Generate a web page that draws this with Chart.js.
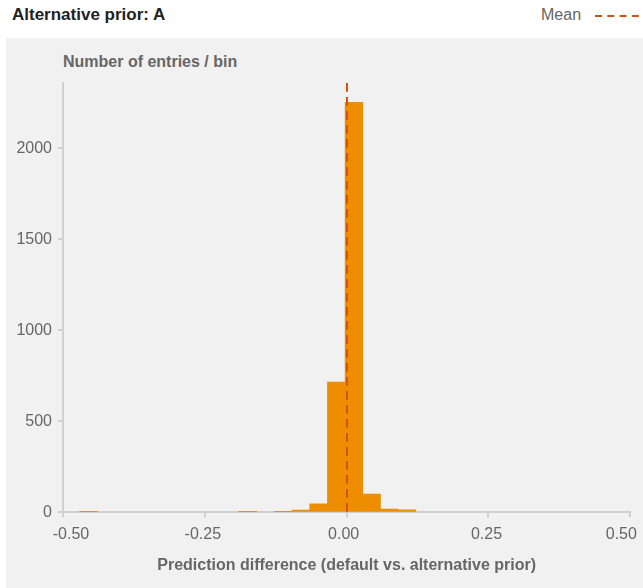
<!DOCTYPE html>
<html>
<head>
<meta charset="utf-8">
<script src="https://cdn.jsdelivr.net/npm/chart.js@4.4.1/dist/chart.umd.min.js"></script>
<style>
  html, body { margin: 0; padding: 0; background: #fff; overflow: hidden; }
  body { width: 643px; height: 588px; position: relative; font-family: "Liberation Sans", Arial, sans-serif; }
  #title { position: absolute; left: 12px; top: 5px; font-size: 17px; font-weight: bold; color: #222; white-space: nowrap; }
  #legend-text { position: absolute; left: 541px; top: 6px; font-size: 16px; color: #666; }
  #legend-line { position: absolute; left: 595px; top: 14px; }
  #panel { position: absolute; left: 6px; top: 38px; width: 637px; height: 550px; background: #f1f1f1; }
  #ytitle { position: absolute; left: 57px; top: 15px; font-size: 16px; font-weight: bold; color: #666; white-space: nowrap; }
  canvas { position: absolute; left: 0; top: 0; }
</style>
</head>
<body>
<div id="title">Alternative prior: A</div>
<div id="legend-text">Mean</div>
<svg id="legend-line" width="48" height="4"><line x1="0" y1="2" x2="48" y2="2" stroke="#d4520e" stroke-width="2" stroke-dasharray="7 5.3"/></svg>
<div id="panel">
  <div id="ytitle">Number of entries / bin</div>
  <canvas id="chart" width="637" height="550"></canvas>
</div>
<script>
// histogram bins (centres) and entries per bin
const BIN_CENTERS = [-0.4548, -0.4236, -0.3924, -0.3613, -0.3301, -0.2989, -0.2677,
  -0.2365, -0.2054, -0.1742, -0.1430, -0.1118, -0.0806, -0.0495, -0.0183,
  0.0129, 0.0441, 0.0753, 0.1064];
const COUNTS = [4, 0, 0, 0, 0, 0, 0, 0, 0, 4, 0, 4, 12, 46, 716, 2254, 100, 18, 13];
const MEAN = 0.0006;

const X_TICKS = [-0.5, -0.25, 0, 0.25, 0.5];
const X_TICK_LABELS = ["-0.50", "-0.25", "0.00", "0.25", "0.50"];
const Y_TICKS = [0, 500, 1000, 1500, 2000];
const Y_TICK_LABELS = ["0", "500", "1000", "1500", "2000"];
const Y_MAX = 2360;

const AXIS_GREY = "#d0d0d0";
const LABEL_SHIFT = [8, -2, -3, -2, -9];

Chart.defaults.font.family = '"Liberation Sans", Arial, sans-serif';

// first/last x labels are pulled inwards in the original
const nudgeLabels = {
  id: "nudgeLabels",
  beforeDraw(chart) {
    const items = chart.scales.x.getLabelItems();
    if (items._nudged) return;
    items._nudged = true;
    items.forEach((it, i) => { it.options.translation[0] += LABEL_SHIFT[i] || 0; });
  }
};

new Chart(document.getElementById("chart"), {
  type: "bar",
  data: {
    datasets: [
      {
        type: "line",
        data: [{ x: MEAN, y: Y_MAX }, { x: MEAN, y: 0 }],
        borderColor: "#d4520e",
        borderWidth: 2,
        borderDash: [8.7, 5.3],
        pointRadius: 0,
        fill: false,
        order: 0
      },
      {
        type: "bar",
        // empty bins are left out so nothing is drawn on the axis
        data: BIN_CENTERS.map((x, i) => ({ x, y: COUNTS[i] || null })),
        backgroundColor: "#ee8d00",
        borderWidth: 0,
        barPercentage: 1,
        categoryPercentage: 1,
        order: 1
      }
    ]
  },
  options: {
    responsive: false,
    animation: false,
    events: [],
    layout: { padding: { top: 45, right: 12.7, bottom: 0, left: 0 } },
    plugins: { legend: { display: false }, tooltip: { enabled: false } },
    scales: {
      x: {
        type: "linear",
        min: -0.5,
        max: 0.5,
        offset: false,
        z: 1,
        afterBuildTicks: (s) => { s.ticks = X_TICKS.map((v) => ({ value: v })); },
        afterFit: (s) => { s.height = 75.7; s.paddingLeft = 0; s.paddingRight = 0; },
        grid: { drawOnChartArea: false, offset: false, tickLength: 5, color: AXIS_GREY, lineWidth: 2 },
        border: { color: AXIS_GREY, width: 2 },
        ticks: {
          color: "#666",
          font: { size: 16 },
          padding: 8,
          maxRotation: 0,
          autoSkip: false,
          callback: (v, i) => X_TICK_LABELS[i]
        },
        title: {
          display: true,
          text: "Prediction difference (default vs. alternative prior)",
          color: "#666",
          font: { size: 16, weight: "bold" },
          padding: { top: 0, bottom: 13 }
        }
      },
      y: {
        min: 0,
        max: Y_MAX,
        afterBuildTicks: (s) => { s.ticks = Y_TICKS.map((v) => ({ value: v })); },
        afterFit: (s) => { s.width = 57; s.paddingTop = 0; s.paddingBottom = 0; },
        grid: { drawOnChartArea: false, tickLength: 5, color: AXIS_GREY, lineWidth: 2 },
        border: { color: AXIS_GREY, width: 2 },
        ticks: {
          color: "#666",
          font: { size: 16 },
          padding: 6,
          callback: (v, i) => Y_TICK_LABELS[i]
        }
      }
    }
  },
  plugins: [nudgeLabels]
});
</script>
</body>
</html>
